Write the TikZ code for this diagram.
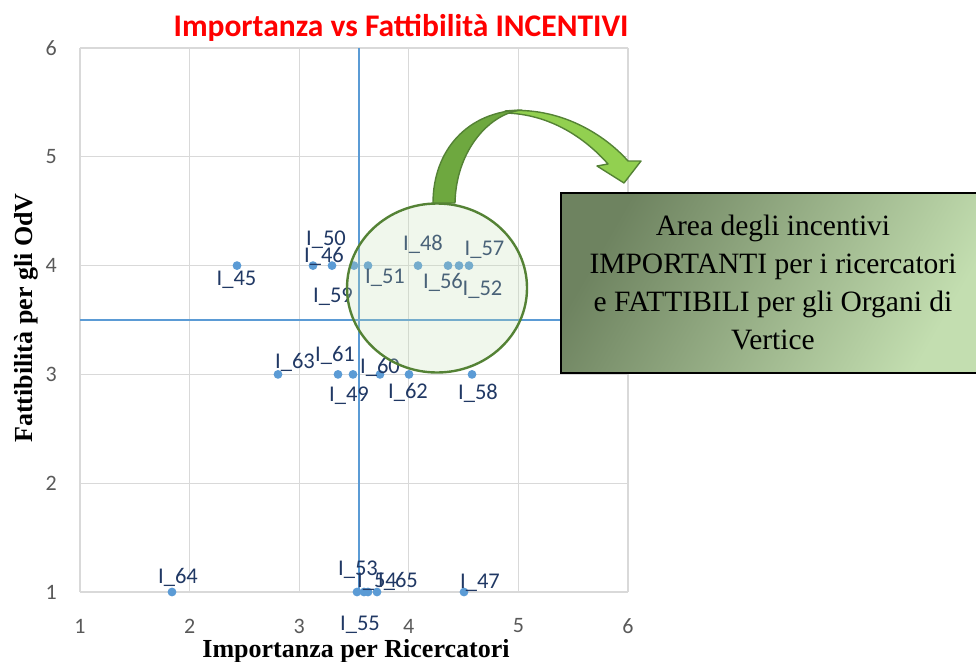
\documentclass[tikz,border=0pt]{standalone}
\usepackage{fontspec}
\setmainfont{Liberation Serif}
\newfontfamily\calib{Carlito}
\definecolor{gridc}{HTML}{D9D9D9}
\definecolor{ptc}{HTML}{5B9BD5}
\definecolor{lblc}{HTML}{203864}
\definecolor{tickc}{HTML}{595959}
\definecolor{circfill}{HTML}{C5E0B4}
\definecolor{circline}{HTML}{548235}
\definecolor{arrdark}{HTML}{6EA83F}
\definecolor{arrlight}{HTML}{92D050}
\definecolor{boxdark}{HTML}{6E8360}
\definecolor{boxlight}{HTML}{C3DEB0}
\definecolor{titlec}{HTML}{FF0000}
\begin{document}
\begin{tikzpicture}[x=1pt,y=-1pt,
  gridline/.style={draw=gridc, line width=1.3pt},
  refline/.style={draw=ptc, line width=1.2pt},
  dot/.style={circle, fill=ptc, inner sep=0pt, minimum size=8.8pt},
  lbl/.style={font=\calib\fontsize{22.5}{22.5}\selectfont, text=lblc, anchor=base, inner sep=0pt},
  tickl/.style={font=\calib\fontsize{22}{22}\selectfont, text=tickc, inner sep=0pt},
  axtitle/.style={font=\bfseries\fontsize{26}{26}\selectfont, inner sep=0pt, anchor=base},
  arrowpart/.style={draw=circline, line width=1.4pt, line join=round}
]
\useasboundingbox (0,0) rectangle (976,661);
\clip (0,0) rectangle (976,661);
% grid
\foreach \gx in {80,189.6,299.2,408.8,518.4,628} \draw[gridline] (\gx,48) -- (\gx,592);
\foreach \gy in {48,156.8,265.6,374.4,483.2,592} \draw[gridline] (80,\gy) -- (628,\gy);
% reference lines
\coordinate (vtop) at (359,48); \coordinate (vbot) at (359,592);
\coordinate (hl) at (80,320); \coordinate (hr) at (628,320);
\draw[refline] (vtop) -- (vbot);
\draw[refline] (hl) -- (hr);
% tick labels
\foreach \v/\gy in {6/48,5/156.8,4/265.6,3/374.4,2/483.2,1/592} \node[tickl, anchor=east] (yt\v) at (57,\gy) {\v};
\foreach \v/\gx in {1/80,2/189.6,3/299.2,4/408.8,5/518.4,6/628} \node[tickl] (xt\v) at (\gx,626) {\v};
% data points
\foreach \px [count=\i] in {237,313,332,354,368,418,448,459,469} \node[dot] (a\i) at (\px,265.6) {};
\foreach \px [count=\i] in {278,338,353,380,409,472} \node[dot] (b\i) at (\px,374.4) {};
\foreach \px [count=\i] in {172,357,364,368,377,464} \node[dot] (c\i) at (\px,592) {};
% labels
\node[lbl] (l50) at (326,245.5) {I\_50};
\node[lbl] (l46) at (324,262.5) {I\_46};
\node[lbl] (l45) at (236.5,285) {I\_45};
\node[lbl] (l59) at (333,302) {I\_59};
\node[lbl] (l51) at (385,283) {I\_51};
\node[lbl] (l48) at (423,250) {I\_48};
\node[lbl] (l57) at (484.5,255) {I\_57};
\node[lbl] (l56) at (443,288) {I\_56};
\node[lbl] (l52) at (482.5,295) {I\_52};
\node[lbl] (l63) at (295,368) {I\_63};
\node[lbl] (l61) at (335,361) {I\_61};
\node[lbl] (l60) at (380,373) {I\_60};
\node[lbl] (l49) at (349,401) {I\_49};
\node[lbl] (l62) at (408,398) {I\_62};
\node[lbl] (l58) at (478,399) {I\_58};
\node[lbl] (l64) at (178,583) {I\_64};
\node[lbl] (l53) at (358,575) {I\_53};
\node[lbl] (l54) at (377,587) {I\_54};
\node[lbl] (l65) at (398,587) {I\_65};
\node[lbl] (l55) at (360,630) {I\_55};
\node[lbl] (l47) at (480,588) {I\_47};
% highlight circle
\draw[draw=circline, line width=2.4pt, fill=circfill, fill opacity=0.25] (437,288) ellipse [x radius=90, y radius=84.5];
% curved arrow
\filldraw[arrowpart, fill=arrlight] (505,111) .. controls (560,106) and (605,135) .. (628,161) -- (641,161) -- (624,183) -- (597,166) -- (608,164) .. controls (585,138) and (550,114) .. (505,113) -- cycle;
\filldraw[arrowpart, fill=arrdark] (433,203) .. controls (433,150) and (468,111) .. (522,110) .. controls (490,113) and (456,150) .. (455,203) -- cycle;
% text box
\shade[top color=boxdark, bottom color=boxlight, shading angle=60] (561,193) rectangle (985,373);
\draw[line width=2pt] (561,193) rectangle (985,373);
\node[font=\fontsize{29.5}{38}\selectfont, align=center, inner sep=0pt] (box) at (773,282) {Area degli incentivi\\IMPORTANTI per i ricercatori\\e FATTIBILI per gli Organi di\\Vertice};
% titles
\node[font=\calib\bfseries\fontsize{31.5}{31.5}\selectfont, text=titlec, inner sep=0pt] (title) at (401,28) {Importanza vs Fattibilità INCENTIVI};
\node[axtitle] (xtitle) at (356,657) {Importanza per Ricercatori};
\node[axtitle, rotate=90] (ytitle) at (32,318) {Fattibilità per gli OdV};
\end{tikzpicture}
\end{document}
